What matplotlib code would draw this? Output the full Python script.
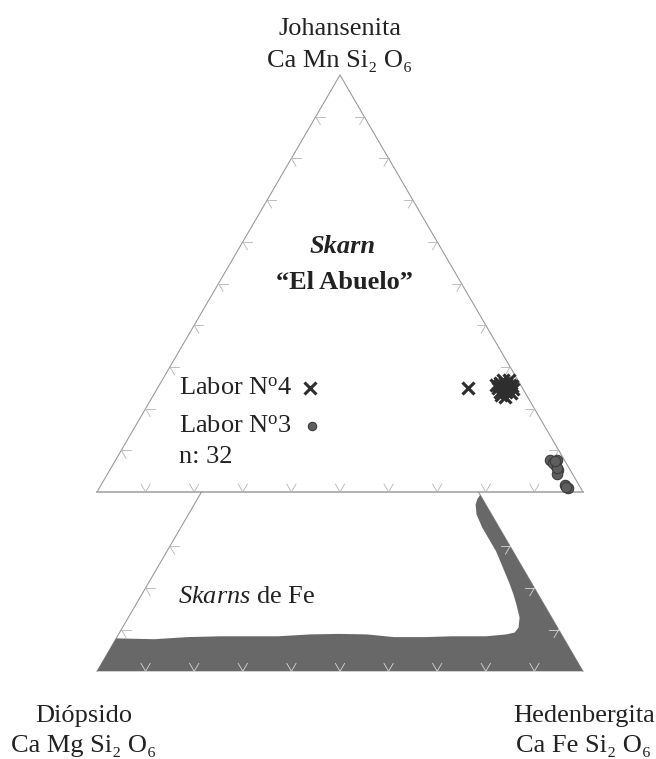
import numpy as np
import matplotlib
matplotlib.use("Agg")
import matplotlib.pyplot as plt

plt.rcParams['font.family'] = ['Liberation Serif', 'DejaVu Serif']
plt.rcParams['mathtext.fontset'] = 'custom'
plt.rcParams['mathtext.rm'] = 'Liberation Serif'
plt.rcParams['mathtext.it'] = 'Liberation Serif:italic'
plt.rcParams['mathtext.bf'] = 'Liberation Serif:bold'

# ---------------------------------------------------------------------------
# Pyroxene compositions, % end-members (Johansenita, Hedenbergita); Diópsido = rest
# ---------------------------------------------------------------------------
labor4_jo = [24.9, 26.1, 26.1, 25.7, 24.9, 24.9, 24.9, 24.7, 24.0, 24.0, 23.7,
             25.7, 26.9, 26.9, 22.8, 23.3, 25.4, 24.5, 25.4, 25.4, 25.9]
labor4_hd = [63.8, 69.8, 70.9, 72.1, 70.0, 71.1, 72.1, 73.2, 70.9, 72.2, 73.3,
             69.3, 70.1, 71.4, 72.6, 71.5, 71.7, 71.5, 70.0, 72.7, 71.2]

labor3_jo = [7.7, 7.7, 6.2, 5.3, 4.3, 1.7, 1.0, 7.0, 5.8, 1.2, 7.4]
labor3_hd = [89.4, 90.8, 91.3, 92.2, 92.5, 95.5, 96.4, 90.3, 91.8, 95.9, 90.5]

n_analyses = len(labor4_jo) + len(labor3_jo)

# Fe-skarn pyroxene field (Jo %, Hd %), lower Jo-Di-Hd section
fe_field_jo = [7.9, 7.7, 8.2, 8.4, 8.4, 8.4, 8.85, 8.97, 8.85, 8.2, 8.2, 8.4, 8.4,
               8.85, 9.3, 10.5, 12.9, 16.0, 18.4, 21.0, 28.7, 34.4, 37.6, 40.0,
               41.4, 42.3, 0.0, 0.0]
fe_field_hd = [0.0, 7.95, 14.5, 21.3, 28.9, 33.1, 39.5, 45.2, 51.1, 57.0, 63.2, 68.9,
               75.9, 79.8, 81.3, 81.5, 80.5, 78.3, 76.5, 74.4, 67.8, 62.1, 59.3, 57.9,
               57.6, 57.7, 100.0, 0.0]

tick_fracs = [0.1, 0.2, 0.3, 0.4, 0.5, 0.6, 0.7, 0.8, 0.9]
lower_side_ticks = [0.1, 0.2, 0.3]
LOWER_CUT = 0.43          # Jo fraction at which the lower section is truncated

SQ3 = np.sqrt(3) / 2


def tern(jo, hd, dy=0.0):
    jo = np.asarray(jo, float) / 100.0
    hd = np.asarray(hd, float) / 100.0
    return hd + jo / 2.0, jo * SQ3 + dy


LOWER_DY = -LOWER_CUT * SQ3

fig = plt.figure(figsize=(6.56, 7.59), dpi=100)
ax = fig.add_axes([0, 0, 1, 1])
ax.set_xlim(-97 / 486, 559 / 486)
ax.set_ylim(-(759 - 492) / 481.5, 492 / 481.5)
ax.axis('off')

EDGE = '#959595'
TICK = '#b4b4b4'
TXT = '#222222'
FILL = '#686868'
L = 0.019

# --- upper triangle -------------------------------------------------------
ax.plot([0, 0.5, 1], [0, SQ3, 0], color=EDGE, lw=0.75, zorder=2)
ax.plot([0, 1], [0, 0], color='#ababab', lw=1.3, zorder=2)

c60, s60 = 0.5, SQ3


def tick(x, y, dirs, color):
    for dx, dy in dirs:
        ax.plot([x, x + L * dx], [y, y + L * dy], color=color, lw=0.6, zorder=4)


for f in tick_fracs:
    tick(f, 0, [(-c60, s60), (c60, s60)], TICK)                 # base
    tick(f / 2, f * SQ3, [(1, 0), (c60, -s60)], TICK)           # left edge
    tick(1 - f / 2, f * SQ3, [(-1, 0), (-c60, -s60)], TICK)     # right edge

# --- lower truncated section with the Fe-skarn field ----------------------
xl, yl = tern([LOWER_CUT * 100, 0], [0, 0], LOWER_DY)
xr, yr = tern([LOWER_CUT * 100, 0], [100 - LOWER_CUT * 100, 100], LOWER_DY)
ax.plot(xl, yl, color=EDGE, lw=0.75, zorder=2)
ax.plot(xr, yr, color=EDGE, lw=0.75, zorder=2)

fx, fy = tern(fe_field_jo, fe_field_hd, LOWER_DY)
ax.fill(fx, fy, color=FILL, lw=0, zorder=3)

for f in tick_fracs:
    tick(f, LOWER_DY, [(-c60, s60), (c60, s60)], '#d8d8d8')
for f in lower_side_ticks:
    tick(f / 2, f * SQ3 + LOWER_DY, [(1, 0), (c60, -s60)], TICK)
    tick(1 - f / 2, f * SQ3 + LOWER_DY, [(-1, 0), (-c60, -s60)], '#d8d8d8')

# --- analyses -------------------------------------------------------------
x4, y4 = tern(labor4_jo, labor4_hd)
ax.plot(x4, y4, ls='none', marker='x', ms=9, mew=2.3, color='#2e2e2e', zorder=6)
x3, y3 = tern(labor3_jo, labor3_hd)
ax.plot(x3, y3, ls='none', marker='o', ms=7.5, mfc='#5e5e5e', mec='#3c3c3c',
        mew=0.8, zorder=6)

# legend entries
ax.plot([0.438], [0.216], ls='none', marker='x', ms=8.5, mew=2.2, color='#2e2e2e')
ax.plot([0.442], [0.137], ls='none', marker='o', ms=6, mfc='#5e5e5e',
        mec='#3c3c3c', mew=0.8)

FS = 19
ax.text(0.168, (492 - 395) / 481.5, r'Labor N$^{\mathrm{o}}$4', fontsize=FS,
        color=TXT, ha='left', va='baseline')
ax.text(0.168, (492 - 433) / 481.5, r'Labor N$^{\mathrm{o}}$3', fontsize=FS,
        color=TXT, ha='left', va='baseline')
ax.text(0.168, (492 - 463) / 481.5, f'n: {n_analyses}', fontsize=FS,
        color=TXT, ha='left', va='baseline')

# --- titles and end-member labels ----------------------------------------
ax.text(0.505, (492 - 253) / 481.5, 'Skarn', fontsize=FS, fontweight='bold',
        fontstyle='italic', color=TXT, ha='center', va='baseline')
ax.text(0.51, (492 - 289) / 481.5, '\u201cEl Abuelo\u201d', fontsize=FS,
        fontweight='bold', color=TXT, ha='center', va='baseline')

ax.text(0.5, (492 - 35) / 481.5, 'Johansenita', fontsize=FS, color=TXT,
        ha='center', va='baseline')
ax.text(0.5, (492 - 67) / 481.5, 'Ca Mn Si\u2082 O\u2086', fontsize=FS, color=TXT,
        ha='center', va='baseline')

ax.text(-0.027, (492 - 722) / 481.5, 'Diópsido', fontsize=FS, color=TXT,
        ha='center', va='baseline')
ax.text(-0.027, (492 - 752) / 481.5, 'Ca Mg Si\u2082 O\u2086', fontsize=FS,
        color=TXT, ha='center', va='baseline')
ax.text(1.002, (492 - 722) / 481.5, 'Hedenbergita', fontsize=FS, color=TXT,
        ha='center', va='baseline')
ax.text(1.002, (492 - 752) / 481.5, 'Ca Fe Si\u2082 O\u2086', fontsize=FS,
        color=TXT, ha='center', va='baseline')

ax.text(0.167, (492 - 603) / 481.5, r'$\mathit{Skarns}$ de Fe', fontsize=FS,
        color=TXT, ha='left', va='baseline')

fig.savefig('out.png', dpi=100)
